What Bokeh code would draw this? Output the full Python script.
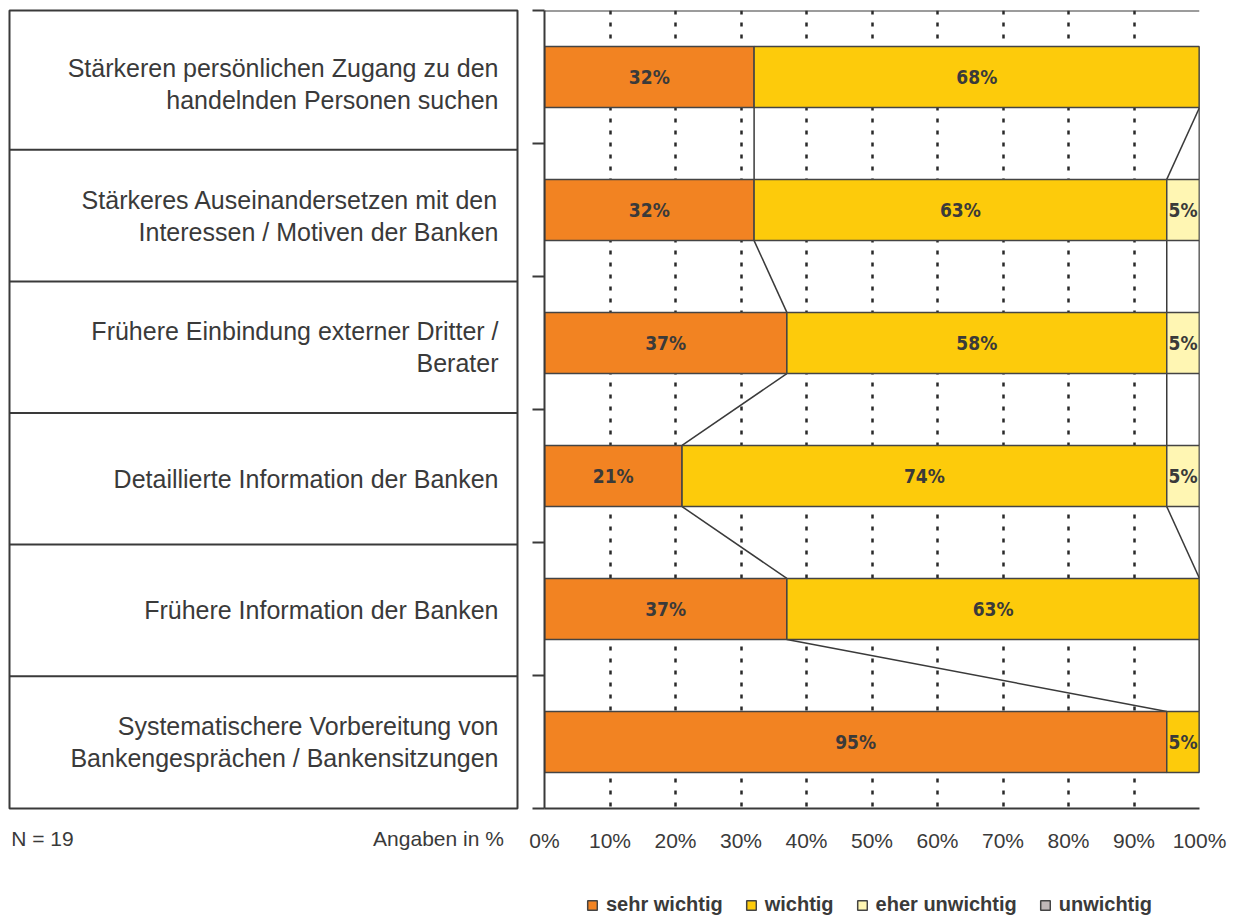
from bokeh.plotting import figure
from bokeh.models import Range1d, FixedTicker, Span, Legend, LegendItem, ColumnDataSource
from bokeh.layouts import row, column
from bokeh.embed import file_html
from bokeh.resources import INLINE
from bokeh.core.properties import value

# ---------------- data ----------------
categories = [
    "Stärkeren persönlichen Zugang zu den\nhandelnden Personen suchen",
    "Stärkeres Auseinandersetzen mit den\nInteressen / Motiven der Banken",
    "Frühere Einbindung externer Dritter /\nBerater",
    "Detaillierte Information der Banken",
    "Frühere Information der Banken",
    "Systematischere Vorbereitung von\nBankengesprächen / Bankensitzungen",
]
sehr_wichtig = [32, 32, 37, 21, 37, 95]
wichtig = [68, 63, 58, 74, 63, 5]
eher_unwichtig = [0, 5, 5, 5, 0, 0]
unwichtig = [0, 0, 0, 0, 0, 0]
series_names = ["sehr wichtig", "wichtig", "eher unwichtig", "unwichtig"]
series_values = [sehr_wichtig, wichtig, eher_unwichtig, unwichtig]
x_ticks = [0, 10, 20, 30, 40, 50, 60, 70, 80, 90, 100]
n_text = "N = 19"
unit_text = "Angaben in %"

# ---------------- styles ----------------
colors = ["#F28322", "#FDCB0B", "#FFF6B3", "#C0B8B8"]
DARK = "#3a3a3a"
FONT = "Liberation Sans"
BAR_H = 0.46
ROW_H = 865
LG_H = 51
n = len(categories)

# ---------------- left label panel ----------------
left = figure(width=521, height=ROW_H, x_range=Range1d(0, 508),
              y_range=Range1d(6.006, -0.059), y_axis_location=None,
              output_backend="svg", toolbar_location=None,
              min_border_left=9, min_border_right=4, min_border_top=8,
              min_border_bottom=ROW_H - 810)
left.grid.visible = False
left.outline_line_color = DARK
left.outline_line_width = 2
left.background_fill_color = "white"
for k in range(1, n):
    left.add_layout(Span(location=k, dimension="width", line_color=DARK, line_width=2))
left.text(x=[489] * n, y=[i + 0.5 for i in range(n)], text=categories,
          text_align="right", text_baseline="middle", text_color=DARK,
          text_font=value(FONT), text_font_size="25px", text_line_height=1.15)
left.xaxis.ticker = FixedTicker(ticks=[33, 429])
left.xaxis.major_label_overrides = {33: n_text, 429: unit_text}
left.xaxis.axis_line_color = None
left.xaxis.major_tick_out = 0
left.xaxis.major_tick_in = 0
left.xaxis.minor_tick_out = 0
left.xaxis.minor_tick_in = 0
left.xaxis.major_label_standoff = 18
left.xaxis.major_label_text_font = FONT
left.xaxis.major_label_text_font_size = "21px"
left.xaxis.major_label_text_color = DARK

# ---------------- chart ----------------
p = figure(width=709, height=ROW_H, x_range=Range1d(0, 100), y_range=Range1d(6, 0),
           output_backend="svg", toolbar_location=None,
           min_border_left=23, min_border_right=31, min_border_top=10,
           min_border_bottom=ROW_H - 808)
p.outline_line_color = None
p.ygrid.visible = False
p.xgrid.ticker = FixedTicker(ticks=x_ticks[1:])
p.xgrid.grid_line_color = "#2a2a2a"
p.xgrid.grid_line_width = 2.5
p.xgrid.grid_line_dash = "4 8"

p.add_layout(Span(location=0, dimension="width", line_color=DARK, line_width=2))

ys = [i + 0.5 for i in range(n)]

# cumulative edges
cums = []
acc = [0] * n
for vals in series_values:
    left_edges = list(acc)
    acc = [a + v for a, v in zip(acc, vals)]
    cums.append((left_edges, list(acc)))

# series lines
sx0, sy0, sx1, sy1 = [], [], [], []
for (_, right_edges) in cums:
    for i in range(n - 1):
        sx0.append(right_edges[i]); sy0.append(ys[i] + BAR_H / 2)
        sx1.append(right_edges[i + 1]); sy1.append(ys[i + 1] - BAR_H / 2)
p.segment(x0=sx0, y0=sy0, x1=sx1, y1=sy1, line_color=DARK, line_width=1.5)

lx, ly, lt = [], [], []
for name, vals, col, (le, re) in zip(series_names, series_values, colors, cums):
    src = ColumnDataSource(dict(y=ys, left=le, right=re))
    p.hbar(y="y", left="left", right="right", height=BAR_H, source=src,
           fill_color=col, line_color="#444444", line_width=1.5)
    for i, v in enumerate(vals):
        if v > 0:
            lx.append((le[i] + re[i]) / 2)
            ly.append(ys[i])
            lt.append(f"{v}%")

p.text(x=lx, y=ly, text=lt, text_align="center", text_baseline="middle",
       text_color=DARK, text_font=value("DejaVu Sans Condensed"),
       text_font_style="bold", text_font_size="19px")

p.yaxis.ticker = FixedTicker(ticks=list(range(n + 1)))
p.yaxis.major_label_overrides = {k: "" for k in range(n + 1)}
p.yaxis.major_tick_out = 12
p.yaxis.major_tick_in = 0
p.yaxis.minor_tick_out = 0
p.yaxis.minor_tick_in = 0
p.yaxis.major_label_standoff = 0
p.yaxis.axis_line_color = DARK
p.yaxis.axis_line_width = 2
p.yaxis.major_tick_line_color = DARK
p.yaxis.major_tick_line_width = 2

p.xaxis.ticker = FixedTicker(ticks=x_ticks)
p.xaxis.major_label_overrides = {t: f"{t}%" for t in x_ticks}
p.xaxis.major_tick_out = 0
p.xaxis.major_tick_in = 0
p.xaxis.minor_tick_out = 0
p.xaxis.minor_tick_in = 0
p.xaxis.axis_line_color = DARK
p.xaxis.axis_line_width = 2
p.xaxis.major_label_standoff = 20
p.xaxis.major_label_text_font = FONT
p.xaxis.major_label_text_font_size = "21px"
p.xaxis.major_label_text_color = DARK

# ---------------- legend strip ----------------
lg = figure(width=1220, height=LG_H, x_range=Range1d(0, 1), y_range=Range1d(0, 1),
            x_axis_location=None, y_axis_location=None,
            output_backend="svg", toolbar_location=None,
            min_border_left=0, min_border_right=0, min_border_top=0, min_border_bottom=0)
lg.grid.visible = False
lg.outline_line_color = None
items = []
nan = float("nan")
for name, col in zip(series_names, colors):
    # legend key renderer only (no visible bar)
    r = lg.hbar(y=[nan], left=[nan], right=[nan], height=1, fill_color=col,
                line_color="#444444", line_width=1.5)
    items.append(LegendItem(label=name, renderers=[r]))
legend = Legend(items=items, location=(586, 0), orientation="horizontal",
                glyph_width=12, glyph_height=12, label_standoff=8, spacing=22,
                padding=2, margin=0, border_line_color=None,
                background_fill_alpha=0, label_text_font=FONT,
                label_text_font_size="20px", label_text_font_style="bold",
                label_text_color=DARK)
lg.add_layout(legend)

layout = column(row(left, p, spacing=0), lg, spacing=0)
open("out.html", "w").write(file_html(layout, INLINE))
